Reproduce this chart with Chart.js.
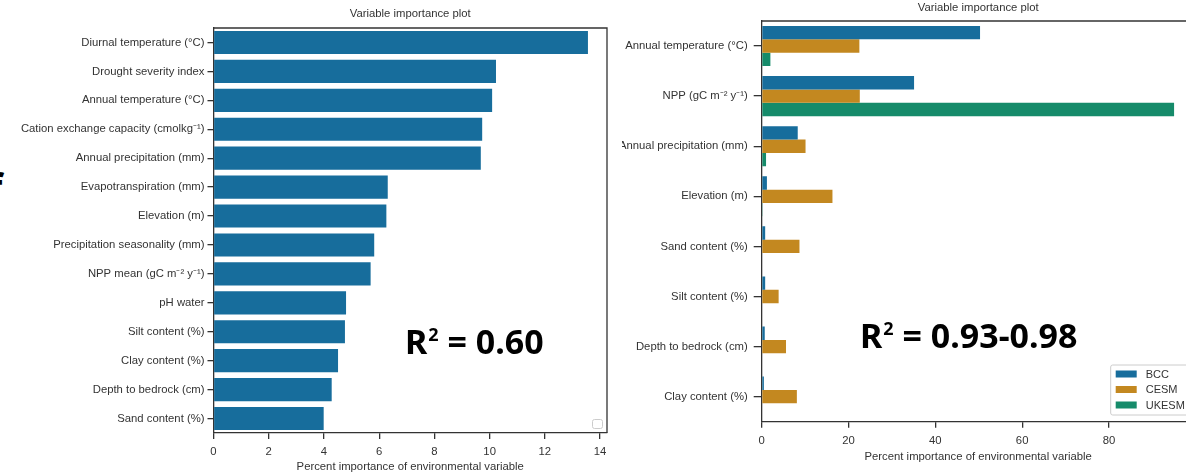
<!DOCTYPE html>
<html>
<head>
<meta charset="utf-8">
<script src="https://cdn.jsdelivr.net/npm/chart.js@4.4.1/dist/chart.umd.min.js"></script>
<style>
  html, body { margin: 0; padding: 0; background: #fff; }
  body { width: 1186px; height: 474px; position: relative; overflow: hidden; }
  #leftBox { position: absolute; left: 0; top: 0; width: 622px; height: 474px; }
  #rightBox { position: absolute; left: 622px; top: 0; width: 600px; height: 474px; }
  .big { position: absolute; font-family: "Noto Sans", sans-serif; font-weight: 700; font-size: 34px; line-height: 34px; color: #000; white-space: nowrap; }
  .big .sup { font-size: 18px; position: relative; top: -13px; margin-left: 1px; }
  #cut { position: absolute; left: -14px; top: 166px; font-family: "Noto Sans", sans-serif; font-weight: 700; font-size: 42px; line-height: 42px; color: #000; }
</style>
</head>
<body>
<div id="cut">f</div>
<div id="leftBox"><canvas id="leftChart" width="622" height="474"></canvas></div>
<div id="rightBox"><canvas id="rightChart" width="600" height="474"></canvas></div>
<div class="big" style="left:405px; top:324px;">R<span class="sup">2</span> = 0.60</div>
<div class="big" style="left:860px; top:318px;">R<span class="sup">2</span> = 0.93-0.98</div>
<script>
// Single-model importance ranking
const leftLabels = [
  'Diurnal temperature (°C)',
  'Drought severity index',
  'Annual temperature (°C)',
  'Cation exchange capacity (cmolkg⁻¹)',
  'Annual precipitation (mm)',
  'Evapotranspiration (mm)',
  'Elevation (m)',
  'Precipitation seasonality (mm)',
  'NPP mean (gC m⁻² y⁻¹)',
  'pH water',
  'Silt content (%)',
  'Clay content (%)',
  'Depth to bedrock (cm)',
  'Sand content (%)'
];
const leftValues = [13.56, 10.23, 10.09, 9.73, 9.68, 6.31, 6.26, 5.82, 5.69, 4.80, 4.76, 4.51, 4.28, 3.99];
const leftTicks = [0, 2, 4, 6, 8, 10, 12, 14];

// Earth-system-model comparison
const rightLabels = [
  'Annual temperature (°C)',
  'NPP (gC m⁻² y⁻¹)',
  'Annual precipitation (mm)',
  'Elevation (m)',
  'Sand content (%)',
  'Silt content (%)',
  'Depth to bedrock (cm)',
  'Clay content (%)'
];
const seriesNames = ['BCC', 'CESM', 'UKESM'];
const bccValues = [50.3, 35.1, 8.3, 1.2, 0.8, 0.8, 0.7, 0.5];
const cesmValues = [22.5, 22.6, 10.1, 16.3, 8.7, 3.9, 5.6, 8.1];
const ukesmValues = [2.0, 95.0, 1.0, 0.2, 0, 0, 0, 0];
const rightTicks = [0, 20, 40, 60, 80];

const BLUE = '#176d9c', ORANGE = '#c38820', GREEN = '#168b6a';
const INK = '#333333';
const FONT = '"Liberation Sans", Arial, sans-serif';
const AXIS_TITLE = 'Percent importance of environmental variable';
const PLOT_TITLE = 'Variable importance plot';

// Draws the matplotlib-style frame, the title, the x-axis title and the legend box
const framePlugin = {
  id: 'frame',
  afterDraw(chart, args, opts) {
    const { ctx, chartArea: a } = chart;
    ctx.save();
    ctx.strokeStyle = INK;
    ctx.lineWidth = 1.3;
    ctx.beginPath();
    ctx.moveTo(a.left, a.top);
    ctx.lineTo(a.right, a.top);
    if (opts.rightSpine) { ctx.lineTo(a.right, a.bottom); }
    ctx.stroke();

    ctx.fillStyle = INK;
    ctx.font = '11.3px ' + FONT;
    ctx.textAlign = 'center';
    ctx.textBaseline = 'middle';
    const cx = (a.left + a.right) / 2;
    ctx.fillText(PLOT_TITLE, cx, opts.titleY);
    ctx.fillText(AXIS_TITLE, cx, opts.xTitleY);

    if (opts.legend === 'empty') {
      ctx.strokeStyle = '#cccccc';
      ctx.lineWidth = 1;
      ctx.beginPath();
      ctx.roundRect(a.right - 14.5, a.bottom - 13.5, 10, 9, 2);
      ctx.stroke();
    } else if (opts.legend === 'series') {
      const lx = opts.legendX, ly = opts.legendY;
      ctx.fillStyle = 'rgba(255,255,255,0.85)';
      ctx.strokeStyle = '#cccccc';
      ctx.lineWidth = 1;
      ctx.beginPath();
      ctx.roundRect(lx, ly, 110, 50, 2);
      ctx.fill();
      ctx.stroke();
      ctx.textAlign = 'left';
      chart.data.datasets.forEach((ds, i) => {
        const y = ly + 9 + i * 15.5;
        ctx.fillStyle = ds.backgroundColor;
        ctx.fillRect(lx + 5, y - 3.5, 21, 7);
        ctx.fillStyle = INK;
        ctx.font = '11px ' + FONT;
        ctx.fillText(ds.label, lx + 35, y + 0.5);
      });
    }
    ctx.restore();
  }
};

function axisSpec(ticksList, maxVal, yWidth, xHeight, yTick, yPad) {
  return {
    x: {
      type: 'linear',
      min: 0,
      max: maxVal,
      afterBuildTicks: (s) => { s.ticks = ticksList.map(v => ({ value: v })); },
      afterFit: (s) => { s.height = xHeight; },
      grid: { drawOnChartArea: false, drawTicks: true, tickLength: 6, color: INK, lineWidth: 1.3 },
      border: { display: true, color: INK, width: 1.3 },
      ticks: { color: INK, font: { family: FONT, size: 11.3 }, padding: 6, maxRotation: 0, callback: v => String(v) }
    },
    y: {
      type: 'category',
      afterFit: (s) => { s.width = yWidth; },
      grid: { offset: false, drawOnChartArea: false, drawTicks: true, tickLength: yTick, color: INK, lineWidth: 1.3 },
      border: { display: true, color: INK, width: 1.3 },
      ticks: { color: INK, font: { family: FONT, size: 11.3 }, padding: yPad, autoSkip: false }
    }
  };
}

Chart.defaults.animation = false;

new Chart(document.getElementById('leftChart'), {
  type: 'bar',
  data: {
    labels: leftLabels,
    datasets: [{ data: leftValues, backgroundColor: BLUE, borderWidth: 0, categoryPercentage: 0.8, barPercentage: 1.0 }]
  },
  options: {
    indexAxis: 'y',
    responsive: false,
    layout: { padding: { left: 0, right: 15, top: 28, bottom: 0 } },
    scales: axisSpec(leftTicks, 14.25, 213.5, 41, 6, 3),
    plugins: {
      legend: { display: false },
      tooltip: { enabled: false },
      frame: { rightSpine: true, titleY: 14, xTitleY: 467, legend: 'empty' }
    }
  },
  plugins: [framePlugin]
});

new Chart(document.getElementById('rightChart'), {
  type: 'bar',
  data: {
    labels: rightLabels,
    datasets: [
      { label: seriesNames[0], data: bccValues, backgroundColor: BLUE },
      { label: seriesNames[1], data: cesmValues, backgroundColor: ORANGE },
      { label: seriesNames[2], data: ukesmValues, backgroundColor: GREEN }
    ].map(d => Object.assign(d, { borderWidth: 0, categoryPercentage: 0.8, barPercentage: 1.0 }))
  },
  options: {
    indexAxis: 'y',
    responsive: false,
    layout: { padding: { left: 0, right: 27.3, top: 21, bottom: 0 } },
    scales: axisSpec(rightTicks, 99.75, 139.7, 52.3, 8, 6),
    plugins: {
      legend: { display: false },
      tooltip: { enabled: false },
      frame: { rightSpine: false, titleY: 8, xTitleY: 457, legend: 'series', legendX: 488.7, legendY: 365 }
    }
  },
  plugins: [framePlugin]
});
</script>
</body>
</html>
